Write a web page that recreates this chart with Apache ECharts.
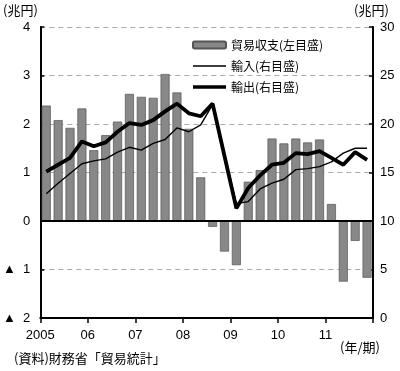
<!DOCTYPE html>
<html>
<head>
<meta charset="utf-8">
<script src="https://cdn.jsdelivr.net/npm/echarts@6/dist/echarts.min.js"></script>
<style>html,body{margin:0;padding:0;background:#fff;}#c{width:400px;height:371px;}</style>
</head>
<body>
<div id="c"></div>
<script>
// quarters 2005Q1 .. 2011Q4
const quarters = ['2005Q1','2005Q2','2005Q3','2005Q4','2006Q1','2006Q2','2006Q3','2006Q4',
  '2007Q1','2007Q2','2007Q3','2007Q4','2008Q1','2008Q2','2008Q3','2008Q4',
  '2009Q1','2009Q2','2009Q3','2009Q4','2010Q1','2010Q2','2010Q3','2010Q4',
  '2011Q1','2011Q2','2011Q3','2011Q4'];
const yearTickLabels = ['2005','06','07','08','09','10','11',''];
// 貿易収支 (left axis, 兆円)
const tradeBalance = [2.38,2.08,1.92,2.32,1.46,1.77,2.05,2.62,2.56,2.54,3.03,2.65,1.90,0.90,-0.12,-0.63,
  -0.91,0.81,1.05,1.70,1.60,1.70,1.62,1.68,0.35,-1.25,-0.41,-1.17];
// 輸入 (right axis, 兆円)
const imports = [12.8,13.9,14.9,15.9,16.2,16.4,17.1,17.6,17.3,18.0,18.4,19.6,19.2,19.9,22.0,16.9,
  11.8,12.0,13.3,13.9,14.3,15.3,15.4,15.6,16.1,17.0,17.5,17.5];
// 輸出 (right axis, 兆円)
const exportsV = [15.1,15.8,16.5,18.2,17.7,18.1,19.2,20.1,19.9,20.4,21.3,22.1,21.1,20.8,22.1,16.7,
  11.3,13.4,14.7,15.8,16.0,17.0,16.9,17.2,16.5,15.8,17.1,16.3];
const leftTicks = {min:-2, max:4, interval:1};
const rightTicks = {min:0, max:30, interval:5};

const numFont = 'Liberation Sans, Arial, sans-serif';
const jpFont = '"Noto Sans CJK JP", sans-serif';
const toXY = arr => arr.map((v, i) => [i + 0.5, v]);
// legend line icons: bar-shaped strokes of a given thickness inside a 33x7 box
const lineIcon = t => {
  const a = (7 - t) / 2, b = a + t;
  return 'path://M0,0L0.001,0L0,0.001Z M0,' + a + 'H33V' + b + 'H0Z M33,7L32.999,7L33,6.999Z';
};

const chart = echarts.init(document.getElementById('c'), null, {renderer: 'canvas'});
chart.setOption({
  animation: false,
  backgroundColor: '#fff',
  grid: {left: 38, right: 27, top: 27, bottom: 53},
  legend: {
    orient: 'vertical', left: 187, top: 34,
    itemWidth: 33, itemHeight: 7, itemGap: 9,
    textStyle: {fontFamily: jpFont, fontSize: 12, color: '#000'},
    data: [
      {name: '貿易収支(左目盛)'},
      {name: '輸入(右目盛)', icon: lineIcon(1.4)},
      {name: '輸出(右目盛)', icon: lineIcon(3.6)}
    ]
  },
  xAxis: {
    type: 'value', min: 0, max: quarters.length, interval: 4,
    axisLine: {onZero: false, lineStyle: {color: '#000', width: 2}},
    axisTick: {show: true, length: 5, lineStyle: {color: '#000', width: 1.5}},
    splitLine: {show: false},
    axisLabel: {fontFamily: numFont, fontSize: 13, color: '#000', margin: 11,
      showMaxLabel: true,
      formatter: v => yearTickLabels[Math.round(v / 4)] || ''}
  },
  yAxis: [{
    type: 'value', position: 'left', min: leftTicks.min, max: leftTicks.max, interval: leftTicks.interval,
    axisLine: {show: true, lineStyle: {color: '#000', width: 2}},
    axisTick: {show: true, inside: true, length: 4, lineStyle: {color: '#000', width: 1.5}},
    splitLine: {show: true, lineStyle: {color: '#aaa', type: [5, 4], width: 1}},
    axisLabel: {fontFamily: numFont, fontSize: 13, color: '#000', margin: 10,
      formatter: v => v < 0 ? '▲  ' + (-v) : String(v)}
  }, {
    type: 'value', position: 'right', min: rightTicks.min, max: rightTicks.max, interval: rightTicks.interval,
    axisLine: {show: true, lineStyle: {color: '#000', width: 2}},
    axisTick: {show: true, inside: true, length: 4, lineStyle: {color: '#000', width: 1.5}},
    splitLine: {show: false},
    axisLabel: {fontFamily: numFont, fontSize: 13, color: '#000', margin: 7}
  }],
  series: [{
    name: '貿易収支(左目盛)', type: 'bar', yAxisIndex: 0, barWidth: 9,
    itemStyle: {color: '#888888', borderColor: '#555555', borderWidth: 0.7},
    data: toXY(tradeBalance),
    markLine: {silent: true, symbol: 'none', label: {show: false},
      lineStyle: {color: '#000', width: 2, type: 'solid'},
      data: [{yAxis: 0}]}
  }, {
    name: '輸入(右目盛)', type: 'line', yAxisIndex: 1, symbol: 'none',
    lineStyle: {color: '#000', width: 1.4}, itemStyle: {color: '#000'},
    data: toXY(imports), z: 3
  }, {
    name: '輸出(右目盛)', type: 'line', yAxisIndex: 1, symbol: 'none',
    lineStyle: {color: '#000', width: 3.8}, itemStyle: {color: '#000'},
    data: toXY(exportsV), z: 4
  }],
  graphic: [
    {type: 'text', left: 3, top: 4, style: {text: '(兆円)', font: '13px ' + jpFont, fill: '#000'}},
    {type: 'text', left: 354, top: 4, style: {text: '(兆円)', font: '13px ' + jpFont, fill: '#000'}},
    {type: 'text', left: 340, top: 341, style: {text: '(年/期)', font: '13px ' + jpFont, fill: '#000'}},
    {type: 'text', left: 14, top: 352, style: {text: '(資料)財務省「貿易統計」', font: '13px ' + jpFont, fill: '#000'}}
  ]
});
</script>
</body>
</html>
